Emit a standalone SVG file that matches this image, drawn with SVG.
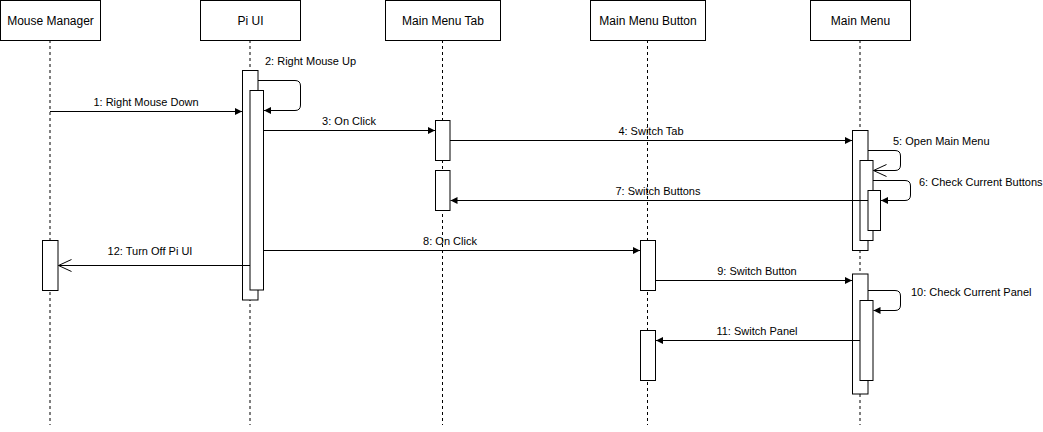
<svg xmlns="http://www.w3.org/2000/svg" width="1043" height="432" viewBox="0 0 1043 432">
<defs>
<marker id="fa" markerWidth="8" markerHeight="8" refX="7" refY="4" orient="auto" markerUnits="userSpaceOnUse"><path d="M0,0.5 L7,4 L0,7.5 Z" fill="#000"/></marker>
<marker id="oa" markerWidth="12" markerHeight="12" refX="1" refY="6" orient="auto" markerUnits="userSpaceOnUse"><path d="M1,6 L14,6 M13,0.5 L1,6 L13,11.5" fill="none" stroke="#000" stroke-width="1" transform="scale(-1,1) translate(-14,0)"/></marker>
<marker id="oa2" markerWidth="14" markerHeight="14" refX="13" refY="7" orient="auto" markerUnits="userSpaceOnUse"><path d="M0,1 L13,7 L0,13" fill="none" stroke="#000" stroke-width="1"/></marker>
</defs>
<style>
.hd{fill:#fff;stroke:#000;stroke-width:1}
.ll{stroke:#000;stroke-width:1;stroke-dasharray:3 3;fill:none}
.act{fill:#fff;stroke:#000;stroke-width:1}
.m{stroke:#000;stroke-width:1;fill:none}
.t{font-family:"Liberation Sans",Arial,sans-serif;font-size:12px;fill:#000;text-anchor:middle}
.l{font-family:"Liberation Sans",Arial,sans-serif;font-size:11px;fill:#000}
.c{text-anchor:middle}
</style>
<g id="lifelines">
<line class="ll" x1="50" y1="40" x2="50" y2="425"/>
<line class="ll" x1="250" y1="40" x2="250" y2="425"/>
<line class="ll" x1="442.5" y1="40" x2="442.5" y2="425"/>
<line class="ll" x1="647.5" y1="40" x2="647.5" y2="425"/>
<line class="ll" x1="860" y1="40" x2="860" y2="425"/>
</g>
<g id="mouse-manager"><rect class="hd" x="0.5" y="0.5" width="100" height="40"/><text class="t" x="50.5" y="24.5">Mouse Manager</text></g>
<g id="pi-ui"><rect class="hd" x="200.5" y="0.5" width="100" height="40"/><text class="t" x="250.5" y="24.5">Pi UI</text></g>
<g id="main-menu-tab"><rect class="hd" x="385.5" y="0.5" width="115" height="40"/><text class="t" x="443" y="24.5">Main Menu Tab</text></g>
<g id="main-menu-button"><rect class="hd" x="590.5" y="0.5" width="115" height="40"/><text class="t" x="648" y="24.5">Main Menu Button</text></g>
<g id="main-menu"><rect class="hd" x="810.5" y="0.5" width="100" height="40"/><text class="t" x="860.5" y="24.5">Main Menu</text></g>
<g id="activations">
<rect class="act" x="42.5" y="240.5" width="15.5" height="50"/>
<rect class="act" x="242.5" y="70.5" width="15.5" height="229.5"/>
<rect class="act" x="250" y="90.5" width="13.5" height="199.5"/>
<rect class="act" x="435.5" y="120.5" width="14.5" height="40"/>
<rect class="act" x="435.5" y="170.5" width="14.5" height="40"/>
<rect class="act" x="640.5" y="240.5" width="15" height="50"/>
<rect class="act" x="640.5" y="330.5" width="15" height="50"/>
<rect class="act" x="852.5" y="130.5" width="15.5" height="120"/>
<rect class="act" x="860" y="160.5" width="13" height="80"/>
<rect class="act" x="868" y="190.5" width="12.5" height="40"/>
<rect class="act" x="852.5" y="274" width="15.5" height="120"/>
<rect class="act" x="860" y="300.5" width="13" height="80"/>
</g>
<g id="connectors">
<line class="m" x1="50" y1="111.5" x2="242" y2="111.5" marker-end="url(#fa)"/>
<text class="l c" x="146" y="106">1: Right Mouse Down</text>
<path class="m" d="M258,80.5 H295 Q300.5,80.5 300.5,86 V105 Q300.5,110.5 295,110.5 H264" marker-end="url(#fa)"/>
<text class="l" x="265" y="65">2: Right Mouse Up</text>
<line class="m" x1="264" y1="130.5" x2="435" y2="130.5" marker-end="url(#fa)"/>
<text class="l c" x="349" y="125">3: On Click</text>
<line class="m" x1="450" y1="140.5" x2="852" y2="140.5" marker-end="url(#fa)"/>
<text class="l c" x="651" y="135">4: Switch Tab</text>
<path class="m" d="M868,150.5 H895 Q900.5,150.5 900.5,156 V165 Q900.5,170.5 895,170.5 H873.5" marker-end="url(#oa2)"/>
<text class="l" x="893" y="145">5: Open Main Menu</text>
<path class="m" d="M873,180.5 H905 Q910.5,180.5 910.5,186 V195 Q910.5,200.5 905,200.5 H881" marker-end="url(#fa)"/>
<text class="l" x="919" y="186">6: Check Current Buttons</text>
<line class="m" x1="868" y1="200.5" x2="450.5" y2="200.5" marker-end="url(#fa)"/>
<text class="l c" x="658" y="195">7: Switch Buttons</text>
<line class="m" x1="264" y1="250.5" x2="640" y2="250.5" marker-end="url(#fa)"/>
<text class="l c" x="450" y="245">8: On Click</text>
<line class="m" x1="656" y1="280.5" x2="852" y2="280.5" marker-end="url(#fa)"/>
<text class="l c" x="757" y="275">9: Switch Button</text>
<path class="m" d="M868,290.5 H895 Q900.5,290.5 900.5,296 V305 Q900.5,310.5 895,310.5 H873.5" marker-end="url(#fa)"/>
<text class="l" x="911" y="296">10: Check Current Panel</text>
<line class="m" x1="860" y1="340.5" x2="656" y2="340.5" marker-end="url(#fa)"/>
<text class="l c" x="757" y="335">11: Switch Panel</text>
<line class="m" x1="250" y1="265.5" x2="58.5" y2="265.5" marker-end="url(#oa2)"/>
<text class="l c" x="150" y="255">12: Turn Off Pi UI</text>
</g>
</svg>
